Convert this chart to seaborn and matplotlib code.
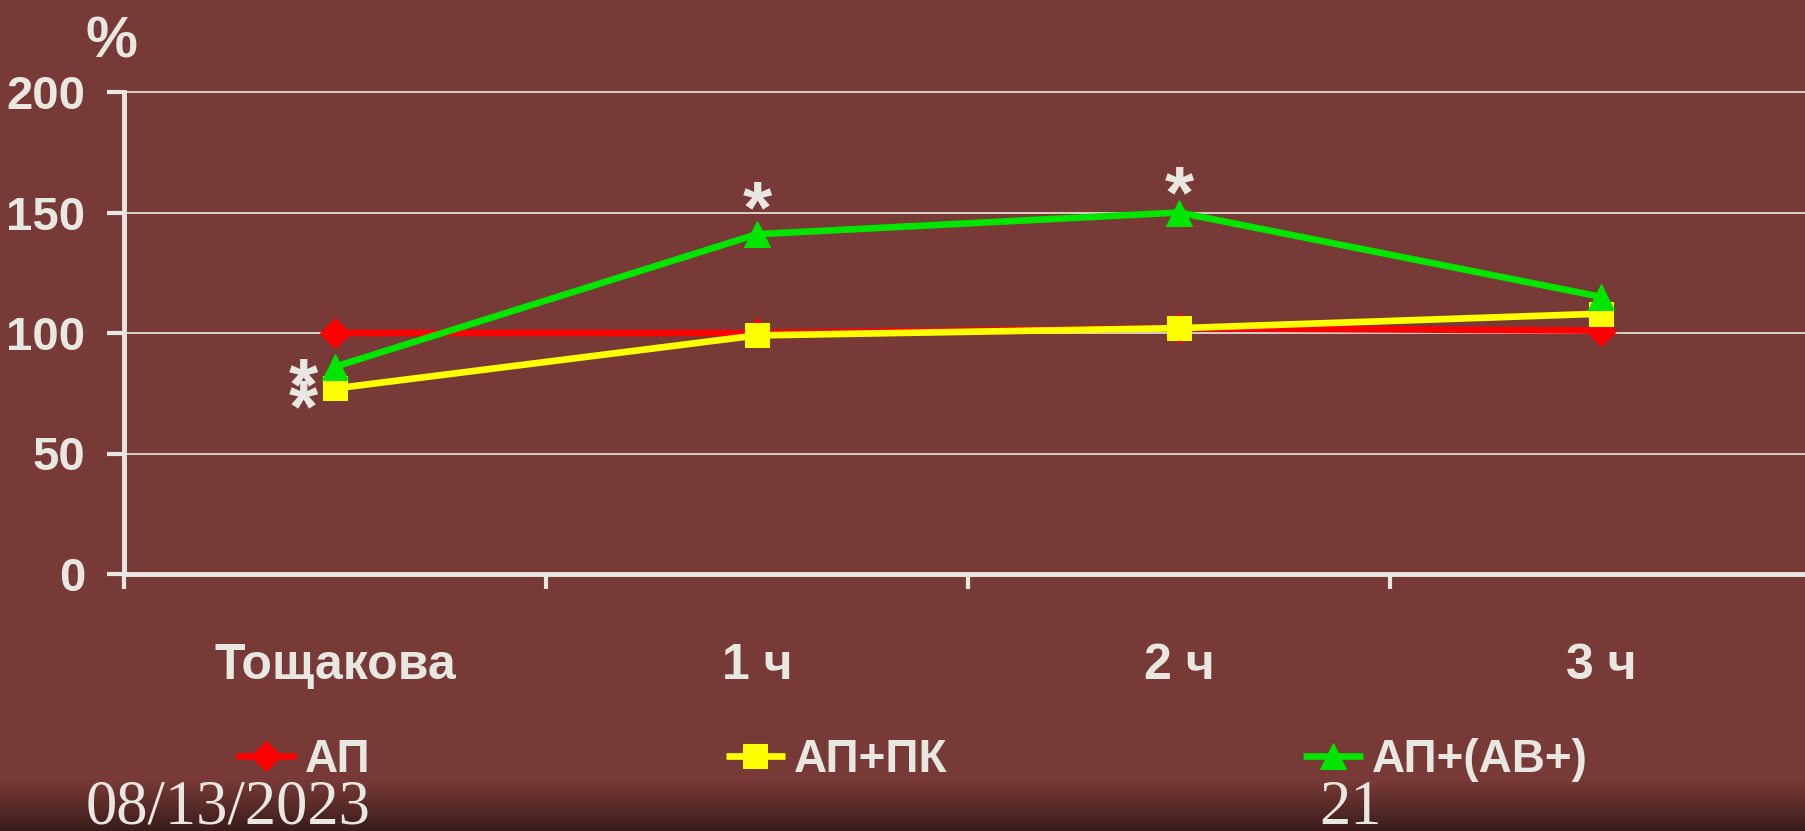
import numpy as np
import pandas as pd
import matplotlib
matplotlib.use("Agg")
import matplotlib.pyplot as plt
from matplotlib.colors import LinearSegmentedColormap
import seaborn as sns

# ---- data -------------------------------------------------------------
time_points = ["Тощакова", "1 ч", "2 ч", "3 ч"]
series_names = ["АП", "АП+ПК", "АП+(АВ+)"]
ap_values = [100, 100, 102, 101]
ap_pk_values = [77, 99, 102, 108]
ap_ab_values = [86, 141, 150, 115]
y_ticks = [0, 50, 100, 150, 200]
footer_date = "08/13/2023"
footer_page = "21"

series_colors = ["#FF0000", "#FFFF00", "#00E600"]
series_markers = ["D", "s", "^"]
marker_sizes = [15, 17, 19]

BG = "#783A36"
FG = "#E9E7E2"
FONT = ["Liberation Sans Narrow", "Liberation Sans", "DejaVu Sans"]

df = pd.DataFrame({
    "time": time_points * 3,
    "value": ap_values + ap_pk_values + ap_ab_values,
    "group": [s for s in series_names for _ in time_points],
})
df["pos"] = df["time"].map({t: i for i, t in enumerate(time_points)})

sns.set_theme(style="white")
plt.rcParams["font.family"] = FONT
plt.rcParams["font.weight"] = "bold"

W, H = 1806, 831
fig = plt.figure(figsize=(W / 100, H / 100), dpi=100, facecolor=BG)

# darker band fading in along the bottom edge
bg_ax = fig.add_axes([0, 0, 1, 50 / H], zorder=-5)
grad = np.linspace(0, 1, 64)[:, None]
cmap = LinearSegmentedColormap.from_list("fade", ["#3A1C1A", BG])
bg_ax.imshow(grad, aspect="auto", cmap=cmap, origin="lower", extent=[0, 1, 0, 1])
bg_ax.axis("off")

ax = fig.add_axes([124 / W, (H - 574) / H, (1812 - 124) / W, (574 - 92) / H])
ax.set_facecolor("none")

sns.lineplot(
    data=df, x="pos", y="value", hue="group", style="group",
    hue_order=series_names, style_order=series_names,
    palette=dict(zip(series_names, series_colors)),
    markers=dict(zip(series_names, series_markers)),
    dashes=False, linewidth=4.8, legend=False, ax=ax, zorder=3,
)
for line, ms, col in zip(ax.lines, marker_sizes, series_colors):
    line.set_markersize(ms)
    line.set_markeredgecolor(col)
    line.set_markerfacecolor(col)
    line.set_solid_capstyle("butt")

ax.set_xlim(-0.5, 3.5)
ax.set_ylim(0, 200)
ax.set_xlabel("")
ax.set_ylabel("")

ax.set_yticks(y_ticks)
ax.set_yticklabels([str(v) for v in y_ticks])
ax.set_xticks(range(len(time_points)))
ax.set_xticklabels(time_points)
ax.set_xticks(np.arange(-0.5, len(time_points), 1.0), minor=True)

ax.tick_params(axis="y", which="major", length=12, width=3, color=FG,
               labelcolor=FG, labelsize=34, pad=16, left=True)
ax.tick_params(axis="x", which="major", length=0, labelcolor=FG,
               labelsize=36, pad=50, bottom=True)
ax.tick_params(axis="x", which="minor", length=11, width=3, color=FG,
               bottom=True)

for side in ("top", "right"):
    ax.spines[side].set_visible(False)
for side in ("left", "bottom"):
    ax.spines[side].set_color(FG)
    ax.spines[side].set_linewidth(3.5)

ax.grid(False)
for v in y_ticks[1:]:
    ax.axhline(v, color=FG, linewidth=1.2, zorder=1, clip_on=False)

# significance marks (a doubled star for the fasting point)
star_kw = dict(color=FG, fontsize=54, ha="center", va="center",
               family=FONT, fontweight="bold", zorder=5)
ax.text(-0.075, 72, "*\n*", linespacing=0.13, **star_kw)
ax.text(1.0, 150, "*", **star_kw)
ax.text(2.0, 156, "*", **star_kw)

# unit label above the value axis
fig.text(111 / W, 1 - 42 / H, "%", color=FG, fontsize=42, ha="center",
         va="center", family=FONT, fontweight="bold")

# legend along the bottom
fig.legend(ax.lines[:3], series_names, loc="center left",
           bbox_to_anchor=(236 / W, 1 - 760 / H), ncol=3, frameon=False,
           borderpad=0, borderaxespad=0, handlelength=1.3, handletextpad=0.2,
           columnspacing=7.75, labelcolor=FG,
           prop=dict(family=FONT, weight="bold", size=33))

# slide footer
serif = ["Liberation Serif", "DejaVu Serif"]
fig.text(86 / W, 7 / H, footer_date, color=FG, fontsize=45,
         family=serif, fontweight="normal", ha="left", va="baseline")
fig.text(1319 / W, 7 / H, footer_page, color=FG, fontsize=45,
         family=serif, fontweight="normal", ha="left", va="baseline")

fig.savefig("out.png", dpi=100, facecolor=BG)
